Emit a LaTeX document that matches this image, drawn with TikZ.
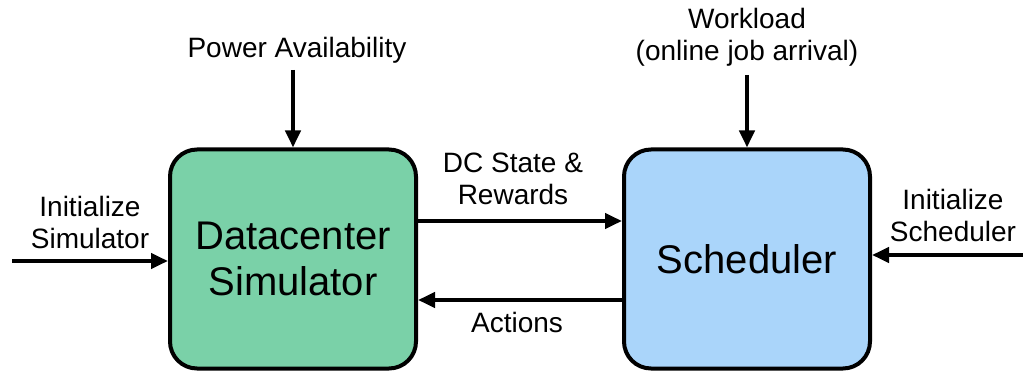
\documentclass[tikz,border=0pt]{standalone}
\usepackage{fontspec}
\setmainfont{Liberation Sans}
\usetikzlibrary{arrows.meta}

\definecolor{simgreen}{RGB}{122,209,168}
\definecolor{schedblue}{RGB}{170,213,250}

\tikzset{
  blockbox/.style={draw=black, line width=4pt, rounded corners=27pt,
    minimum width=246pt, minimum height=219pt, align=center,
    font=\fontsize{40}{46}\selectfont},
  lbl/.style={align=center, inner sep=0pt, font=\fontsize{28}{32}\selectfont},
  flow/.style={line width=4pt, -{Triangle[length=17pt,width=15pt]}}
}

\begin{document}
\begin{tikzpicture}[x=1pt,y=1pt,yscale=-1]
\useasboundingbox (0,0) rectangle (1023,371);

% boxes
\node[blockbox, fill=simgreen] (dcsim) at (293,259) {Datacenter\\Simulator};
\node[blockbox, fill=schedblue] (sched) at (747,259) {Scheduler};

% labels
\node[lbl] (powerlbl) at (297,50) {Power Availability};
\node[lbl] (wllbl) at (747,37) {Workload\\(online job arrival)};
\node[lbl] (initsim) at (90,222) {Initialize\\Simulator};
\node[lbl] (initsched) at (953,215) {Initialize\\Scheduler};
\node[lbl] (statelbl) at (513,179) {DC State \&\\Rewards};
\node[lbl] (actlbl) at (517,322) {Actions};

% free ends
\coordinate (powerin) at (293,70);
\coordinate (wlin) at (747,75);
\coordinate (simin) at (12,261);
\coordinate (schedin) at (1023,255);
\coordinate (stateh) at (0,221);
\coordinate (acth) at (0,300);

% arrows
\draw[flow] (powerin) -- (dcsim.north);
\draw[flow] (wlin) -- (sched.north);
\draw[flow] (simin) -- (dcsim.west |- simin);
\draw[flow] (schedin) -- (sched.east |- schedin);
\draw[flow] (dcsim.east |- stateh) -- (sched.west |- stateh);
\draw[flow] (sched.west |- acth) -- (dcsim.east |- acth);
\end{tikzpicture}
\end{document}
